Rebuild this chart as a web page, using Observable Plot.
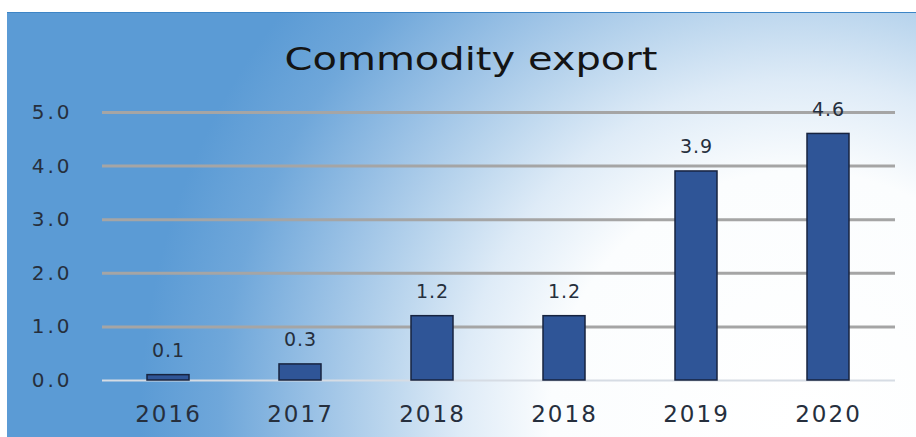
<!DOCTYPE html>
<html><head><meta charset="utf-8">
<script src="https://cdn.jsdelivr.net/npm/d3@7"></script>
<script src="https://cdn.jsdelivr.net/npm/@observablehq/plot@0.6"></script>
<style>
html,body{margin:0;padding:0;background:#fff;}
#wrap{position:relative;width:916px;height:437px;overflow:hidden;background:#fff;font-family:"DejaVu Sans",sans-serif;}
#panel{position:absolute;left:7px;top:12px;right:0;bottom:0;background:radial-gradient(circle at 793px 408px,#ffffff 0px,#fbfdfe 250px,#deebf7 340px,#bdd7ee 410px,#9dc3e6 480px,#6fa7da 580px,#5b9bd5 660px,#5b9bd5 1200px);border-top:1px solid #3d85c6;}
#title{position:absolute;left:0;width:942px;top:40px;text-align:center;font-size:32px;color:#141414;line-height:normal;transform:scaleX(1.25);transform-origin:471px 50%;}
#chart{position:absolute;left:0;top:0;}
#chart g[aria-label="y-axis tick label"] text{letter-spacing:3px;}
#chart g[aria-label="x-axis tick label"] text{letter-spacing:2px;}
#chart g[aria-label="text"] text{letter-spacing:1px;}
</style>
</head><body>
<div id="wrap"><div id="panel"></div><div id="title">Commodity export</div><div id="chart"></div></div>
<script>
const years = ["2016","2017","2018","2018","2019","2020"];
const values = [0.1,0.3,1.2,1.2,3.9,4.6];
const yTicks = [0,1,2,3,4,5];
const data = values.map((v,i)=>({i, year: years[i], value: v}));
const chart = Plot.plot({
  width: 916, height: 437,
  marginLeft: 102, marginRight: 21, marginTop: 112, marginBottom: 57,
  style: {background: "transparent", fontFamily: "DejaVu Sans", color: "#262f3d", overflow: "visible"},
  x: {type: "band", domain: d3.range(years.length), paddingInner: 0.68, paddingOuter: 0.34},
  y: {domain: [0,5]},
  marks: [
    Plot.ruleY(yTicks.filter(t=>t>0), {stroke: "#a5a5a5", strokeWidth: 3}),
    Plot.ruleY([0], {stroke: "#d6dce4", strokeWidth: 2}),
    Plot.barY(data, {x: "i", y: "value", fill: "#2f5597", stroke: "#17233f", strokeWidth: 1.5}),
    Plot.text(data, {x: "i", y: "value", text: d=>d.value.toFixed(1), lineAnchor: "bottom", dy: -18, fontSize: 19, fill: "#262f3d"}),
    Plot.axisY({ticks: yTicks, tickFormat: d=>d.toFixed(1), tickSize: 0, tickPadding: 30, fontSize: 20, label: null}),
    Plot.axisX({tickFormat: i=>years[i], tickSize: 0, tickPadding: 25, fontSize: 23, label: null})
  ]
});
document.getElementById("chart").appendChild(chart);
</script>
</body></html>
